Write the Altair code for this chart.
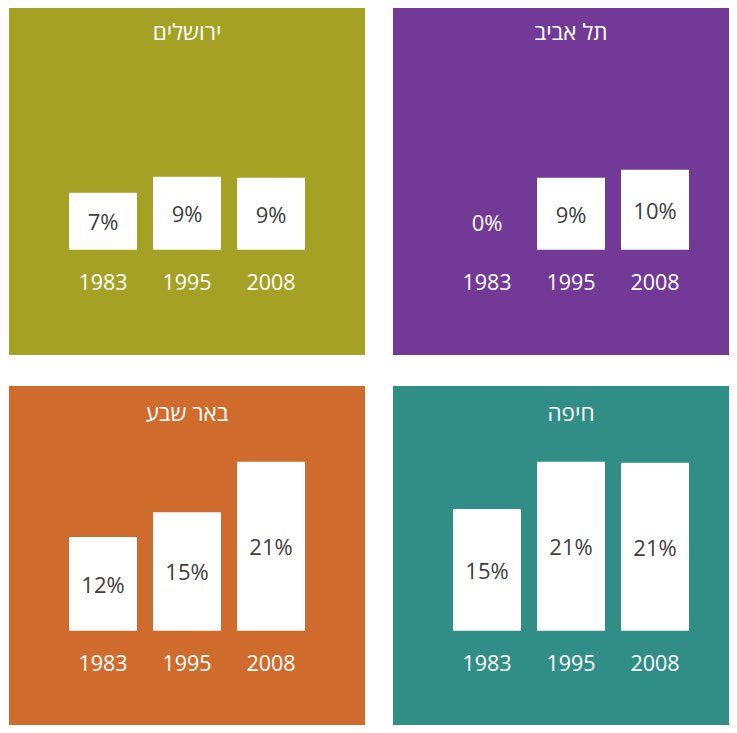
import altair as alt
import pandas as pd

cities = ["ירושלים", "תל אביב", "באר שבע", "חיפה"]
years = ["1983", "1995", "2008"]
vals_jerusalem = [7.1, 9.1, 9.0]
vals_telaviv = [0.0, 9.0, 10.0]
vals_beersheva = [11.7, 14.8, 21.1]
vals_haifa = [15.2, 21.1, 21.0]
all_vals = [vals_jerusalem, vals_telaviv, vals_beersheva, vals_haifa]
colors = ["#A5A124", "#723A96", "#CF6C2D", "#318E86"]

PX_PER_UNIT = 8.0
FONT = "Open Sans"


def panel(city, vals, color, top, baseline_abs, width, height):
    df = pd.DataFrame({"year": years, "value": vals})
    df["label"] = [f"{round(v)}%" for v in vals]
    zero_px = baseline_abs - top
    xs = alt.Scale(domain=years, range=[0, 356], paddingInner=16 / 84, paddingOuter=60 / 84)
    ys = alt.Scale(domain=[0, zero_px / PX_PER_UNIT], range=[zero_px, 0], zero=False, nice=False)
    base = alt.Chart(df)
    bars = base.mark_bar(color="white").encode(
        x=alt.X("year:N", scale=xs, axis=None),
        y=alt.Y("value:Q", scale=ys, axis=None),
    )
    labels = base.transform_calculate(
        lab_y="max(datum.value / 2, 3.5)"
    ).mark_text(font=FONT, fontSize=22, baseline="middle", dy=2).encode(
        x=alt.X("year:N", scale=xs, axis=None),
        y=alt.Y("lab_y:Q", scale=ys, axis=None),
        text="label:N",
        color=alt.condition("datum.value == 0", alt.value("white"), alt.value("#404040")),
    )
    year_lab = base.mark_text(font=FONT, fontSize=21.5, baseline="middle", color="white").encode(
        x=alt.X("year:N", scale=xs, axis=None),
        y=alt.value(baseline_abs + 34.5 - top),
        text="year:N",
    )
    title = alt.Chart(pd.DataFrame({"city": [city]})).mark_text(
        font=FONT, fontSize=22.5, baseline="alphabetic", color="white"
    ).encode(
        x=alt.value(178),
        y=alt.value(baseline_abs - 209.7 - top),
        text="city:N",
    )
    return alt.layer(bars, labels, year_lab, title).properties(
        width=width, height=height,
        view=alt.ViewBackground(fill=color, strokeWidth=0),
    )


top_row = alt.hconcat(
    panel(cities[0], all_vals[0], colors[0], 8, 249.67, 356, 347),
    panel(cities[1], all_vals[1], colors[1], 8, 249.67, 336, 347),
    spacing=28,
)
bottom_row = alt.hconcat(
    panel(cities[2], all_vals[2], colors[2], 386, 630.67, 356, 339),
    panel(cities[3], all_vals[3], colors[3], 386, 630.67, 336, 339),
    spacing=28,
)
chart = alt.vconcat(top_row, bottom_row, spacing=31).properties(
    padding={"left": 1, "top": 0, "right": 0, "bottom": 0},
).configure_view(strokeWidth=0)

chart.save("out.html", embed_options={"renderer": "svg", "actions": False})
